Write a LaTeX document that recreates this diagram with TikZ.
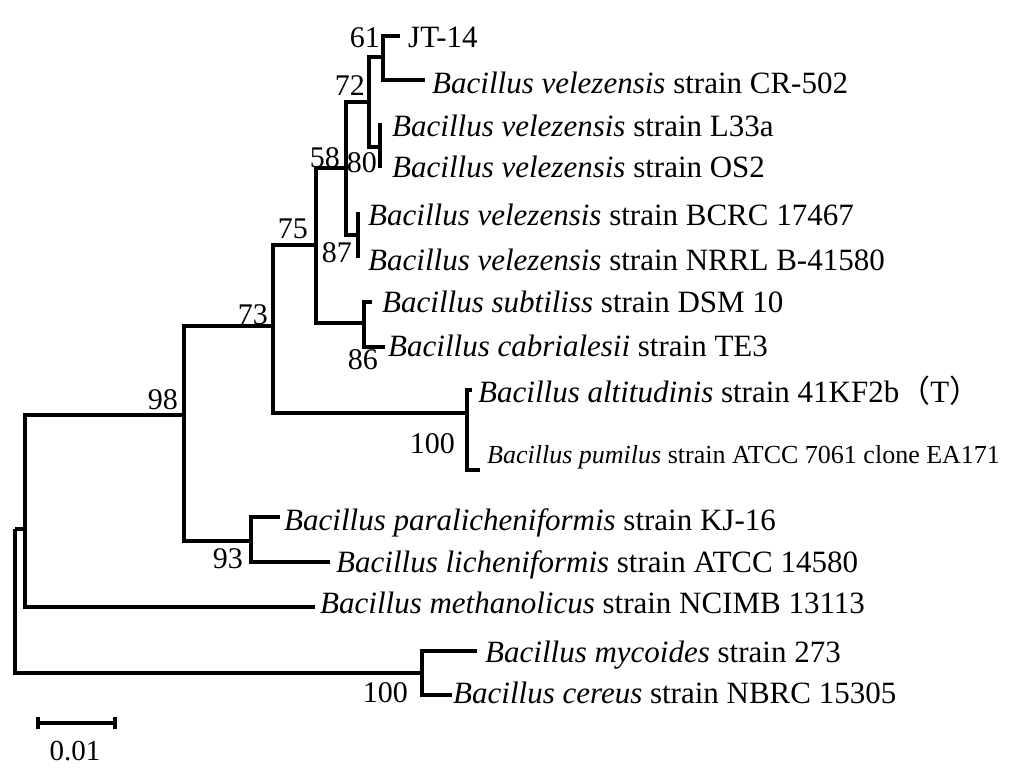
\documentclass[tikz,border=0pt]{standalone}
\usepackage{fontspec}
\setmainfont{Liberation Serif}
\newfontfamily\cjkfont{Noto Sans CJK SC}
\begin{document}
\begin{tikzpicture}[x=1pt,y=-1pt,
  br/.style={line width=3.3pt, line join=miter},
  lab/.style={anchor=base west, inner sep=0pt, font=\fontsize{31}{31}\selectfont},
  smalllab/.style={anchor=base west, inner sep=0pt, font=\fontsize{26}{26}\selectfont},
  num/.style={anchor=base east, inner sep=0pt, font=\fontsize{30}{30}\selectfont}]
\useasboundingbox (0,0) rectangle (1032,780);
\fill[white] (0,0) rectangle (1032,780);

% internal nodes (connection points)
\coordinate (root) at (15,529);
\coordinate (nA) at (25,529);
\coordinate (n98) at (184,415);
\coordinate (n73) at (273,326);
\coordinate (n75) at (316,245);
\coordinate (n58) at (346,168);
\coordinate (n72) at (369,102);
\coordinate (n61) at (383,57);
\coordinate (n80) at (380,147);
\coordinate (n87) at (358,235);
\coordinate (n86) at (364,323);
\coordinate (n100a) at (467,413);
\coordinate (n93) at (251,541);
\coordinate (n100b) at (422,673);

% tips
\coordinate (tJT) at (400,36);
\coordinate (tCR) at (425,80);
\coordinate (tL33) at (380,123);
\coordinate (tOS2) at (380,168);
\coordinate (tBCRC) at (358,212);
\coordinate (tNRRL) at (358,258);
\coordinate (tDSM) at (372,302);
\coordinate (tTE3) at (385,347);
\coordinate (tAlt) at (472,390);
\coordinate (tPum) at (480,470);
\coordinate (tPar) at (280,517);
\coordinate (tLic) at (330,562);
\coordinate (tMet) at (315,607);
\coordinate (tMyc) at (477,651);
\coordinate (tCer) at (452,695);

% branches
\draw[br] (root) |- (nA);
\draw[br] (root) |- (n100b);
\draw[br] (nA) |- (n98);
\draw[br] (nA) |- (tMet);
\draw[br] (n98) |- (n73);
\draw[br] (n98) |- (n93);
\draw[br] (n73) |- (n75);
\draw[br] (n73) |- (n100a);
\draw[br] (n75) |- (n58);
\draw[br] (n75) |- (n86);
\draw[br] (n58) |- (n72);
\draw[br] (n58) |- (n87);
\draw[br] (n72) |- (n61);
\draw[br] (n72) |- (n80);
\draw[br] (n61) |- (tJT);
\draw[br] (n61) |- (tCR);
\draw[br] (n80) |- (tL33);
\draw[br] (n80) |- (tOS2);
\draw[br] (n87) |- (tBCRC);
\draw[br] (n87) |- (tNRRL);
\draw[br] (n86) |- (tDSM);
\draw[br] (n86) |- (tTE3);
\draw[br] (n100a) |- (tAlt);
\draw[br] (n100a) |- (tPum);
\draw[br] (n93) |- (tPar);
\draw[br] (n93) |- (tLic);
\draw[br] (n100b) |- (tMyc);
\draw[br] (n100b) |- (tCer);

% taxon labels
\node[lab] (lJT) at (408,47) {JT-14};
\node[lab] (lCR) at (432,93) {\textit{Bacillus velezensis} strain CR-502};
\node[lab] (lL33) at (392,136) {\textit{Bacillus velezensis} strain L33a};
\node[lab] (lOS2) at (392,177) {\textit{Bacillus velezensis} strain OS2};
\node[lab] (lBCRC) at (368,225) {\textit{Bacillus velezensis} strain BCRC 17467};
\node[lab] (lNRRL) at (368,270) {\textit{Bacillus velezensis} strain NRRL B-41580};
\node[lab] (lDSM) at (382,312) {\textit{Bacillus subtiliss} strain DSM 10};
\node[lab] (lTE3) at (388,356) {\textit{Bacillus cabrialesii} strain TE3};
\node[lab] (lAlt) at (478,402) {\textit{Bacillus altitudinis} strain 41KF2b{\cjkfont （}T{\cjkfont ）}};
\node[smalllab] (lPum) at (487,463) {\textit{Bacillus pumilus} strain ATCC 7061 clone EA171};
\node[lab] (lPar) at (284,530) {\textit{Bacillus paralicheniformis} strain KJ-16};
\node[lab] (lLic) at (336,572) {\textit{Bacillus licheniformis} strain ATCC 14580};
\node[lab] (lMet) at (320,613) {\textit{Bacillus methanolicus} strain NCIMB 13113};
\node[lab] (lMyc) at (485,662) {\textit{Bacillus mycoides} strain 273};
\node[lab] (lCer) at (453,703) {\textit{Bacillus cereus} strain NBRC 15305};

% bootstrap values
\node[num] (b61) at (380,47) {61};
\node[num] (b72) at (365,95) {72};
\node[num] (b58) at (340,167) {58};
\node[num] (b80) at (377,172) {80};
\node[num] (b75) at (308,238) {75};
\node[num] (b87) at (352,262) {87};
\node[num] (b86) at (378,369) {86};
\node[num] (b73) at (268,324) {73};
\node[num] (b98) at (178,409) {98};
\node[num] (b100a) at (455,453) {100};
\node[num] (b93) at (243,568) {93};
\node[num] (b100b) at (408,702) {100};

% scale bar
\coordinate (sL) at (38,723);
\coordinate (sR) at (115,723);
\draw[br] (sL) -- (sR);
\draw[br] ([yshift=-6pt]sL) -- ([yshift=6pt]sL);
\draw[br] ([yshift=-6pt]sR) -- ([yshift=6pt]sR);
\node[anchor=base, inner sep=0pt, font=\fontsize{29}{29}\selectfont] (sLab) at (75,760) {0.01};
\end{tikzpicture}
\end{document}
